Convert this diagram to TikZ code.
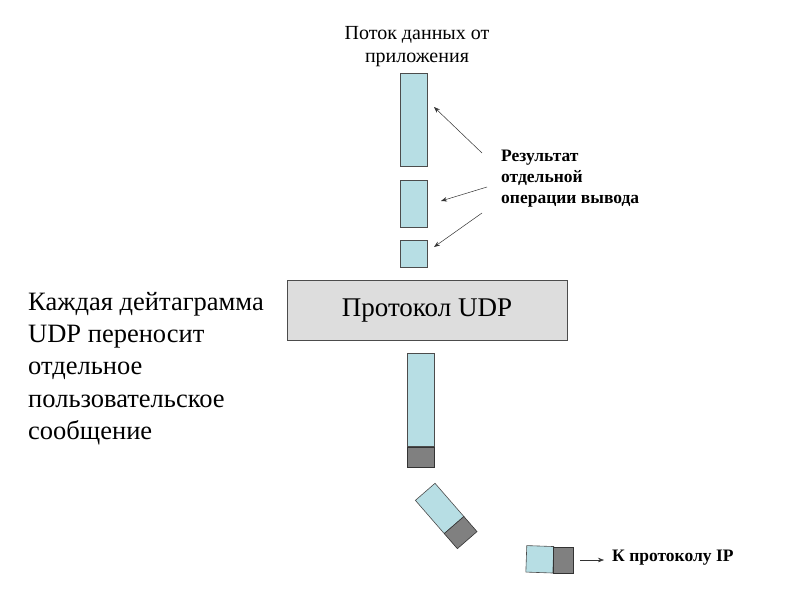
\documentclass[tikz,border=0pt]{standalone}
\usepackage{fontspec}
\setmainfont{Liberation Serif}
\usetikzlibrary{arrows.meta}
\definecolor{seg}{RGB}{183,222,228}
\definecolor{hdr}{RGB}{128,128,128}
\definecolor{udpfill}{RGB}{221,221,221}
\tikzset{
  segbox/.style={draw=black!70, fill=seg, line width=0.6pt},
  hdrbox/.style={draw=black!80, fill=hdr, line width=0.6pt},
  ptr/.style={-{Stealth[length=6pt,width=4.5pt]}, line width=0.5pt, black!80},
}
\begin{document}
\begin{tikzpicture}[x=1pt,y=-1pt]
\useasboundingbox (0,0) rectangle (800,600);
% top label
\node[align=center, font=\fontsize{20}{23}\selectfont] (src) at (417,47) {Поток данных от\\приложения};
% segments
\node[segbox, minimum width=27pt, minimum height=93pt, inner sep=0pt, anchor=north west] (s1) at (400,73) {};
\node[segbox, minimum width=27pt, minimum height=47pt, inner sep=0pt, anchor=north west] (s2) at (400,180) {};
\node[segbox, minimum width=27pt, minimum height=27pt, inner sep=0pt, anchor=north west] (s3) at (400,240) {};
% label
\node[align=left, anchor=west, font=\bfseries\fontsize{17.5}{21}\selectfont, inner sep=0pt] (res) at (501,179) {Результат\\отдельной\\операции вывода};
\coordinate (r1) at (482,153);
\coordinate (r2) at (487,187);
\coordinate (r3) at (482,213);
\coordinate (t1) at (434,107);
\coordinate (t2) at (441,201);
\coordinate (t3) at (434,247);
\draw[ptr] (r1) -- (t1);
\draw[ptr] (r2) -- (t2);
\draw[ptr] (r3) -- (t3);
% UDP box
\node[draw=black!70, fill=udpfill, minimum width=280pt, minimum height=60pt, inner sep=0pt, anchor=north west] (udp) at (287,280) {};
\node[font=\fontsize{27}{30}\selectfont] (udpt) at (427,311) {Протокол UDP};
% left text
\node[align=left, anchor=north west, font=\fontsize{26.5}{32.3}\selectfont, inner sep=0pt] (note) at (28,292) {Каждая дейтаграмма\\UDP переносит\\отдельное\\пользовательское\\сообщение};
% datagram 1
\node[segbox, minimum width=27pt, minimum height=93pt, inner sep=0pt, anchor=north west] (d1) at (407,353) {};
\node[hdrbox, minimum width=27pt, minimum height=20pt, inner sep=0pt, anchor=north west] (h1) at (407,446.5) {};
% datagram 2 (tilted)
\begin{scope}[shift={(435,483.3)}, rotate=-49]
\path[segbox] (0,0) rectangle (44,26);
\path[hdrbox] (44,0) rectangle (64,26);
\end{scope}
% datagram 3
\node[segbox, minimum width=27pt, minimum height=26.5pt, inner sep=0pt, rotate=-2] (d3) at (539.8,559.3) {};
\node[hdrbox, minimum width=20pt, minimum height=26pt, inner sep=0pt, anchor=north west] (h3) at (553.3,546.5) {};
\node[anchor=west, font=\bfseries\fontsize{17.5}{20}\selectfont, inner sep=0pt] (ip) at (612,558) {К протоколу IP};
\coordinate (a3) at (580,560);
\coordinate (a3e) at (604,560);
\draw[ptr] (a3) -- (a3e);
\end{tikzpicture}
\end{document}
